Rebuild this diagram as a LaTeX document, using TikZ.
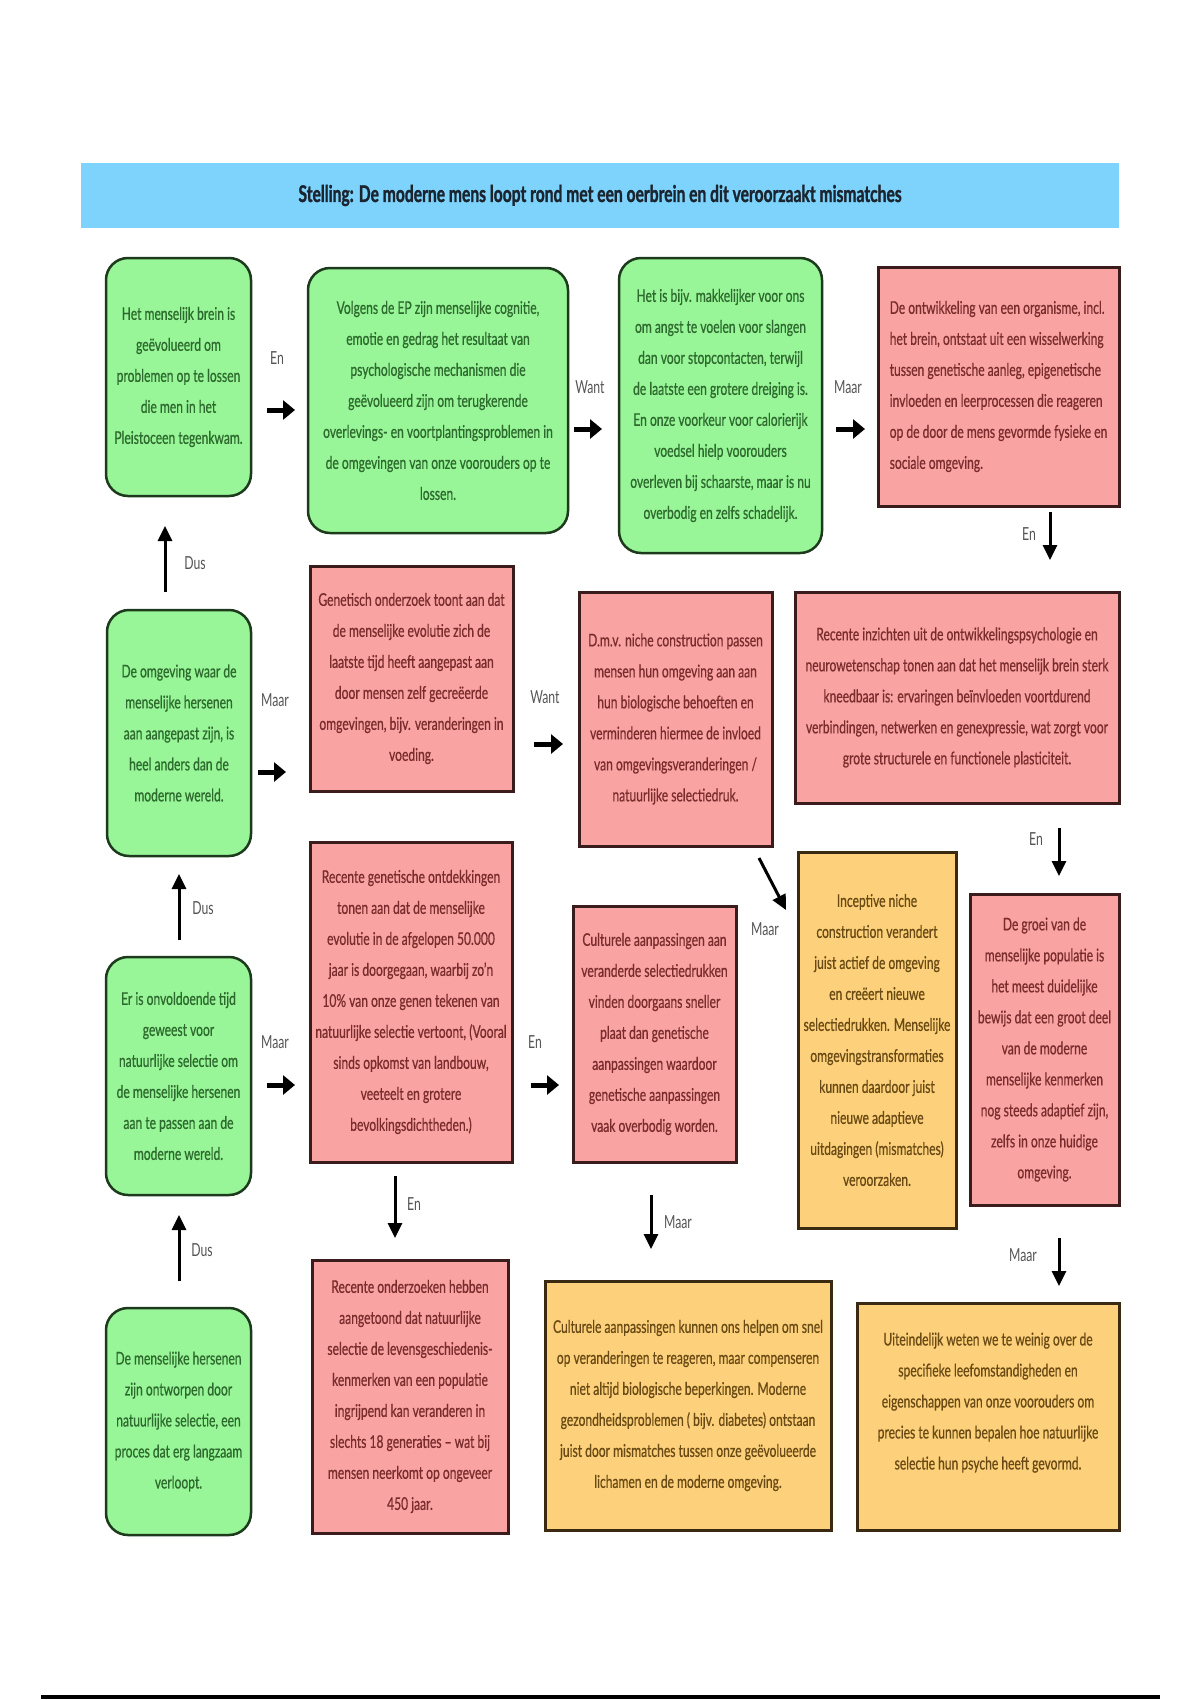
\documentclass[tikz,border=0pt]{standalone}
\usepackage{fontspec}
\setmainfont{Lato}[FakeStretch=0.68]
\newfontfamily\boxfont{Lato}[FakeStretch=0.69, FakeBold=0.6]
\newfontfamily\titlefont{Lato Bold}[FakeStretch=0.68, FakeBold=1.2]
\usetikzlibrary{arrows.meta}
\definecolor{gfill}{HTML}{98F598}
\definecolor{gdraw}{HTML}{1D3A1D}
\definecolor{gtext}{HTML}{2D6A2D}
\definecolor{rfill}{HTML}{F9A3A3}
\definecolor{rdraw}{HTML}{3A1C1C}
\definecolor{rtext}{HTML}{7A2C2C}
\definecolor{yfill}{HTML}{FDD17B}
\definecolor{ydraw}{HTML}{3B2A12}
\definecolor{ytext}{HTML}{6A4A14}
\definecolor{tfill}{HTML}{7DD3FB}
\definecolor{ttext}{HTML}{1B2530}
\definecolor{ltext}{HTML}{555555}
\tikzset{
  boxbase/.style={inner sep=3pt, align=center, font=\boxfont\fontsize{17.5}{31}\selectfont},
  greenbox/.style={boxbase, rounded corners=22pt, fill=gfill, draw=gdraw, line width=2.5pt, text=gtext},
  redbox/.style={boxbase, fill=rfill, draw=rdraw, line width=3pt, text=rtext},
  yellowbox/.style={boxbase, fill=yfill, draw=ydraw, line width=3pt, text=ytext},
  titlebar/.style={fill=tfill, draw=none, text=ttext, font=\titlefont\fontsize{23}{26}\selectfont},
  lbl/.style={text=ltext, font=\fontsize{18}{20}\selectfont, inner sep=0pt},
  harr/.style={line width=5pt, -{Triangle[length=12pt,width=19pt]}},
  varr/.style={line width=3pt, -{Triangle[length=15pt,width=14pt]}},
}
\begin{document}
\begin{tikzpicture}[x=1pt,y=-1pt]
\useasboundingbox (0,0) rectangle (1200,1700);
\fill[white] (0,0) rectangle (1200,1700);

% title
\node[titlebar, minimum width=1038pt, minimum height=65pt] (T) at (600,195.5)
  {Stelling: De moderne mens loopt rond met een oerbrein en dit veroorzaakt mismatches};

% row 1
\node[greenbox, minimum width=145pt, minimum height=238pt] (A) at (178.5,377)
  {Het menselijk brein is\\geëvolueerd om\\problemen op te lossen\\die men in het\\Pleistoceen tegenkwam.};
\node[greenbox, minimum width=260pt, minimum height=265pt] (B) at (438,400.5)
  {Volgens de EP zijn menselijke cognitie,\\emotie en gedrag het resultaat van\\psychologische mechanismen die\\geëvolueerd zijn om terugkerende\\overlevings- en voortplantingsproblemen in\\de omgevingen van onze voorouders op te\\lossen.};
\node[greenbox, minimum width=203pt, minimum height=295pt] (C) at (720.5,405.5)
  {Het is bijv. makkelijker voor ons\\om angst te voelen voor slangen\\dan voor stopcontacten, terwijl\\de laatste een grotere dreiging is.\\En onze voorkeur voor calorierijk\\voedsel hielp voorouders\\overleven bij schaarste, maar is nu\\overbodig en zelfs schadelijk.};
\node[redbox, align=left, minimum width=241pt, minimum height=239pt] (D) at (998.5,386.5)
  {De ontwikkeling van een organisme, incl.\\het brein, ontstaat uit een wisselwerking\\tussen genetische aanleg, epigenetische\\invloeden en leerprocessen die reageren\\op de door de mens gevormde fysieke en\\sociale omgeving.};

% row 2
\node[greenbox, minimum width=144pt, minimum height=246pt] (E) at (179,733)
  {De omgeving waar de\\menselijke hersenen\\aan aangepast zijn, is\\heel anders dan de\\moderne wereld.};
\node[redbox, minimum width=203pt, minimum height=225pt] (F) at (411.5,678.5)
  {Genetisch onderzoek toont aan dat\\de menselijke evolutie zich de\\laatste tijd heeft aangepast aan\\door mensen zelf gecreëerde\\omgevingen, bijv. veranderingen in\\voeding.};
\node[redbox, minimum width=193pt, minimum height=254pt] (G) at (675.5,719)
  {D.m.v. niche construction passen\\mensen hun omgeving aan aan\\hun biologische behoeften en\\verminderen hiermee de invloed\\van omgevingsveranderingen /\\natuurlijke selectiedruk.};
\node[redbox, minimum width=324pt, minimum height=211pt] (H) at (957,697.5)
  {Recente inzichten uit de ontwikkelingspsychologie en\\neurowetenschap tonen aan dat het menselijk brein sterk\\kneedbaar is: ervaringen beïnvloeden voortdurend\\verbindingen, netwerken en genexpressie, wat zorgt voor\\grote structurele en functionele plasticiteit.};

% row 3
\node[greenbox, minimum width=145pt, minimum height=238pt] (I) at (178.5,1076)
  {Er is onvoldoende tijd\\geweest voor\\natuurlijke selectie om\\de menselijke hersenen\\aan te passen aan de\\moderne wereld.};
\node[redbox, minimum width=202pt, minimum height=320pt] (J) at (411,1002)
  {Recente genetische ontdekkingen\\tonen aan dat de menselijke\\evolutie in de afgelopen 50.000\\jaar is doorgegaan, waarbij zo’n\\10\% van onze genen tekenen van\\natuurlijke selectie vertoont, (Vooral\\sinds opkomst van landbouw,\\veeteelt en grotere\\bevolkingsdichtheden.)};
\node[redbox, minimum width=163pt, minimum height=256pt] (K) at (654.5,1034)
  {Culturele aanpassingen aan\\veranderde selectiedrukken\\vinden doorgaans sneller\\plaat dan genetische\\aanpassingen waardoor\\genetische aanpassingen\\vaak overbodig worden.};
\node[yellowbox, minimum width=158pt, minimum height=376pt] (L) at (877,1040)
  {Inceptive niche\\construction verandert\\juist actief de omgeving\\en creëert nieuwe\\selectiedrukken. Menselijke\\omgevingstransformaties\\kunnen daardoor juist\\nieuwe adaptieve\\uitdagingen (mismatches)\\veroorzaken.};
\node[redbox, minimum width=149pt, minimum height=311pt] (M) at (1044.5,1049.5)
  {De groei van de\\menselijke populatie is\\het meest duidelijke\\bewijs dat een groot deel\\van de moderne\\menselijke kenmerken\\nog steeds adaptief zijn,\\zelfs in onze huidige\\omgeving.};

% row 4
\node[greenbox, minimum width=145pt, minimum height=227pt] (N) at (178.5,1421.5)
  {De menselijke hersenen\\zijn ontworpen door\\natuurlijke selectie, een\\proces dat erg langzaam\\verloopt.};
\node[redbox, minimum width=196pt, minimum height=273pt] (O) at (410,1396.5)
  {Recente onderzoeken hebben\\aangetoond dat natuurlijke\\selectie de levensgeschiedenis-\\kenmerken van een populatie\\ingrijpend kan veranderen in\\slechts 18 generaties – wat bij\\mensen neerkomt op ongeveer\\450 jaar.};
\node[yellowbox, minimum width=286pt, minimum height=249pt] (P) at (688,1405.5)
  {Culturele aanpassingen kunnen ons helpen om snel\\op veranderingen te reageren, maar compenseren\\niet altijd biologische beperkingen. Moderne\\gezondheidsproblemen ( bijv. diabetes) ontstaan\\juist door mismatches tussen onze geëvolueerde\\lichamen en de moderne omgeving.};
\node[yellowbox, minimum width=262pt, minimum height=227pt] (Q) at (988,1416.5)
  {Uiteindelijk weten we te weinig over de\\specifieke leefomstandigheden en\\eigenschappen van onze voorouders om\\precies te kunnen bepalen hoe natuurlijke\\selectie hun psyche heeft gevormd.\\\mbox{}};

% arrow end points
\coordinate (ab1) at (267,410);   \coordinate (ab2) at (295,410);
\coordinate (bc1) at (574,429);   \coordinate (bc2) at (602,429);
\coordinate (cd1) at (836,429);   \coordinate (cd2) at (865,429);
\coordinate (dh1) at (1050,512);  \coordinate (dh2) at (1050,560);
\coordinate (ea1) at (165,592);   \coordinate (ea2) at (165,526);
\coordinate (ef1) at (258,772);   \coordinate (ef2) at (286,772);
\coordinate (fg1) at (534,744);   \coordinate (fg2) at (563,744);
\coordinate (hm1) at (1059,828);  \coordinate (hm2) at (1059,876);
\coordinate (ie1) at (179,940);   \coordinate (ie2) at (179,874);
\coordinate (ij1) at (267,1085);  \coordinate (ij2) at (295,1085);
\coordinate (jk1) at (531,1085);  \coordinate (jk2) at (559,1085);
\coordinate (gl1) at (759,858);   \coordinate (gl2) at (786,910);
\coordinate (jo1) at (395,1176);  \coordinate (jo2) at (395,1238);
\coordinate (kp1) at (651,1195);  \coordinate (kp2) at (651,1249);
\coordinate (mq1) at (1059,1238); \coordinate (mq2) at (1059,1286);
\coordinate (ni1) at (179,1281);  \coordinate (ni2) at (179,1215);

% arrows
\draw[harr] (ab1) -- (ab2);
\draw[harr] (bc1) -- (bc2);
\draw[harr] (cd1) -- (cd2);
\draw[harr] (ef1) -- (ef2);
\draw[harr] (fg1) -- (fg2);
\draw[harr] (ij1) -- (ij2);
\draw[harr] (jk1) -- (jk2);
\draw[varr] (dh1) -- (dh2);
\draw[varr] (hm1) -- (hm2);
\draw[varr] (ea1) -- (ea2);
\draw[varr] (ie1) -- (ie2);
\draw[varr] (ni1) -- (ni2);
\draw[varr] (gl1) -- (gl2);
\draw[varr] (jo1) -- (jo2);
\draw[varr] (kp1) -- (kp2);
\draw[varr] (mq1) -- (mq2);

% labels
\node[lbl] (lab) at (277,358) {En};
\node[lbl] (lbc) at (590,387) {Want};
\node[lbl] (lcd) at (848,387) {Maar};
\node[lbl] (ldh) at (1029,534) {En};
\node[lbl] (lea) at (195,563) {Dus};
\node[lbl] (lef) at (275,700) {Maar};
\node[lbl] (lfg) at (545,697) {Want};
\node[lbl] (lhm) at (1036,839) {En};
\node[lbl] (lie) at (203,908) {Dus};
\node[lbl] (lij) at (275,1042) {Maar};
\node[lbl] (ljk) at (535,1042) {En};
\node[lbl] (lgl) at (765,929) {Maar};
\node[lbl] (ljo) at (414,1204) {En};
\node[lbl] (lkp) at (678,1222) {Maar};
\node[lbl] (lmq) at (1023,1255) {Maar};
\node[lbl] (lni) at (202,1250) {Dus};

% bottom rule
\coordinate (bl1) at (41,1697);
\coordinate (bl2) at (1160,1697);
\draw[line width=4pt] (bl1) -- (bl2);
\end{tikzpicture}
\end{document}
